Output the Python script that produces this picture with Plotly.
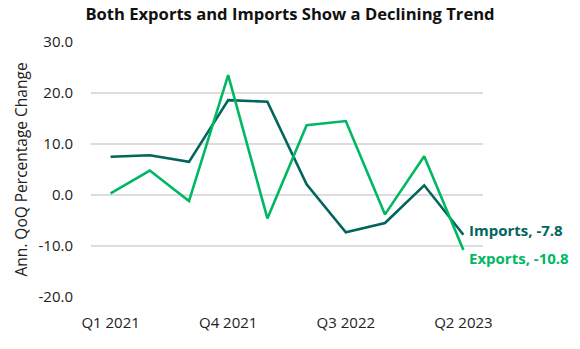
import plotly.graph_objects as go

quarters = ["Q1 2021", "Q2 2021", "Q3 2021", "Q4 2021", "Q1 2022", "Q2 2022",
            "Q3 2022", "Q4 2022", "Q1 2023", "Q2 2023"]
imports = [7.5, 7.8, 6.5, 18.6, 18.3, 2.1, -7.3, -5.5, 1.9, -7.8]
exports = [0.3, 4.8, -1.2, 23.5, -4.6, 13.7, 14.5, -3.8, 7.6, -10.8]
tick_labels = ["Q1 2021", "Q4 2021", "Q3 2022", "Q2 2023"]
y_ticks = [-20, -10, 0, 10, 20, 30]

imp_color = "#00665c"
exp_color = "#00b862"
font = "Open Sans"

fig = go.Figure()
fig.add_trace(go.Scatter(x=quarters, y=imports, mode="lines", name="Imports",
                         line=dict(color=imp_color, width=2.6)))
fig.add_trace(go.Scatter(x=quarters, y=exports, mode="lines", name="Exports",
                         line=dict(color=exp_color, width=2.6)))

fig.add_annotation(x=quarters[-1], y=imports[-1], text=f"<b>Imports, {imports[-1]}</b>",
                   showarrow=False, xanchor="left", xshift=4, yshift=5,
                   font=dict(family=font, size=15, color=imp_color))
fig.add_annotation(x=quarters[-1], y=exports[-1], text=f"<b>Exports, {exports[-1]}</b>",
                   showarrow=False, xanchor="left", xshift=4, yshift=-8,
                   font=dict(family=font, size=15, color=exp_color))

fig.update_layout(
    width=580, height=349,
    margin=dict(l=91, r=97, t=42, b=52),
    paper_bgcolor="white", plot_bgcolor="white",
    showlegend=False,
    font=dict(family=font, size=15, color="#222"),
    title=dict(text="<b>Both Exports and Imports Show a Declining Trend</b>",
               x=0.5, xanchor="center", y=0.975, yanchor="top",
               font=dict(family=font, size=16.6, color="#111")),
    xaxis=dict(type="category", range=[-0.5, 9.5],
               tickmode="array", tickvals=tick_labels, ticktext=tick_labels,
               showgrid=False, showline=False, zeroline=False,
               ticks="outside", ticklen=12, tickcolor="rgba(0,0,0,0)",
               tickfont=dict(size=15, color="#222")),
    yaxis=dict(range=[-20, 30], tickmode="array", tickvals=y_ticks,
               ticktext=[f"{v:.1f}" for v in y_ticks],
               showgrid=True, gridcolor="#dddddd", gridwidth=1.5,
               zeroline=False, showline=False,
               ticks="outside", ticklen=14, tickcolor="rgba(0,0,0,0)",
               tickfont=dict(size=15, color="#222"),
               title=dict(text="Ann. QoQ Percentage Change", standoff=7,
                          font=dict(size=15.5, color="#222"))),
)

fig.write_html("out.html")
